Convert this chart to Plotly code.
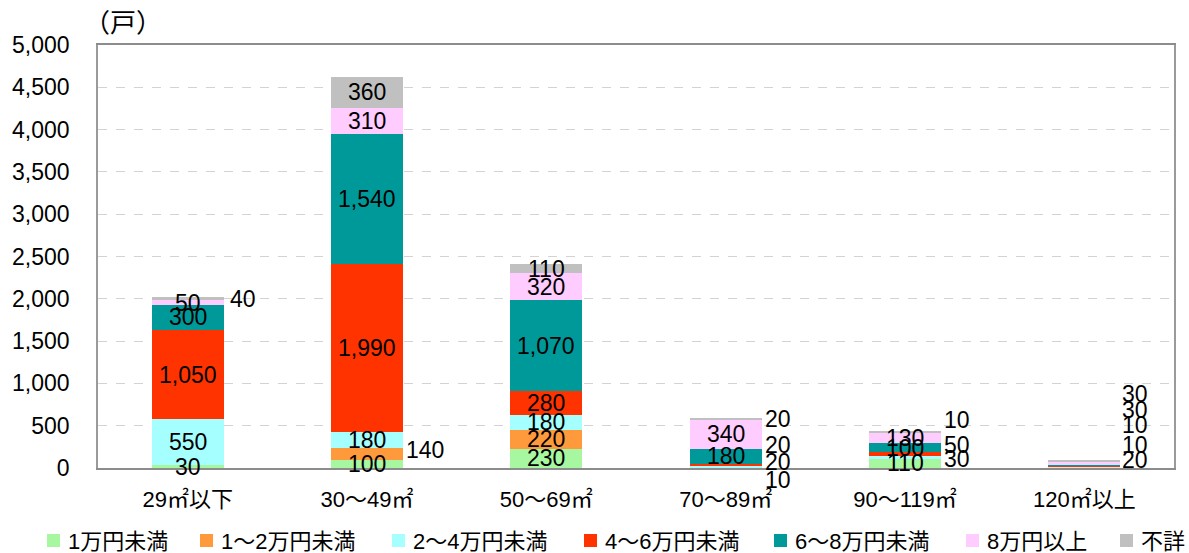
import plotly.graph_objects as go

categories = ["29㎡以下", "30～49㎡", "50～69㎡", "70～89㎡", "90～119㎡", "120㎡以上"]
series_names = ["1万円未満", "1～2万円未満", "2～4万円未満", "4～6万円未満", "6～8万円未満", "8万円以上", "不詳"]

v_1man = [30, 100, 230, 0, 110, 0]
v_1_2man = [0, 140, 220, 10, 0, 0]
v_2_4man = [550, 180, 180, 20, 30, 20]
v_4_6man = [1050, 1990, 280, 20, 50, 10]
v_6_8man = [300, 1540, 1070, 180, 100, 10]
v_8man = [50, 310, 320, 340, 130, 30]
v_unknown = [40, 360, 110, 20, 10, 30]

y_ticks = [0, 500, 1000, 1500, 2000, 2500, 3000, 3500, 4000, 4500, 5000]

values = [v_1man, v_1_2man, v_2_4man, v_4_6man, v_6_8man, v_8man, v_unknown]
colors = ["#A6F7A0", "#FF9A3C", "#A6FFFF", "#FF3300", "#009999", "#FFCCFF", "#C0C0C0"]

FONT = "Liberation Sans, Arial, Noto Sans CJK JP, sans-serif"

# plot area in pixels
W, H = 1189, 553
ML, MR, MT, MB = 98, 15, 45, 85
PW, PH = W - ML - MR, H - MT - MB


def px_x(px):
    return (px - ML) / PW


def px_y(py):
    return (H - MB - py) / PH


fig = go.Figure()
for name, vals, col in zip(series_names, values, colors):
    fig.add_trace(go.Bar(x=categories, y=vals, name=name, marker=dict(color=col, line=dict(width=0)),
                         hoverinfo="x+y+name", showlegend=False))

# label placement: (category index, series index) -> (xshift, yshift) for labels drawn at the right of the bar
outside = {
    (0, 6): (4, 0),
    (1, 1): (1, -4),
    (3, 1): (1, 12), (3, 2): (1, -4), (3, 3): (1, -20), (3, 6): (1, 0),
    (4, 2): (1, 2), (4, 3): (1, -9), (4, 6): (1, -12),
    (5, 2): (0, -7), (5, 3): (0, -21), (5, 4): (0, -40), (5, 5): (0, -53), (5, 6): (0, -67),
}

annotations = []
for ci in range(len(categories)):
    base = 0
    for si, vals in enumerate(values):
        v = vals[ci]
        if v > 0:
            center = base + v / 2
            txt = f"{v:,}"
            if (ci, si) in outside:
                xs, ys = outside[(ci, si)]
                annotations.append(dict(x=ci + 0.2, y=center, xref="x", yref="y", text=txt,
                                        showarrow=False, xanchor="left", yanchor="middle", xshift=xs,
                                        yshift=-ys, font=dict(size=23, color="#000", family=FONT)))
            else:
                annotations.append(dict(x=ci, y=center, xref="x", yref="y", text=txt,
                                        showarrow=False, xanchor="center", yanchor="middle",
                                        font=dict(size=23, color="#000", family=FONT)))
        base += v

annotations.append(dict(x=px_x(82), y=px_y(20), xref="paper", yref="paper", text="（戸）", showarrow=False,
                        xanchor="left", yanchor="middle",
                        font=dict(size=26, color="#000", family="Noto Sans CJK JP")))

# legend row (drawn manually to match the spacing of the reference)
legend_x = [47, 200, 392, 584, 774, 966, 1120]
shapes = []
for name, col, lx in zip(series_names, colors, legend_x):
    shapes.append(dict(type="rect", xref="paper", yref="paper",
                       x0=px_x(lx), x1=px_x(lx + 13), y0=px_y(547), y1=px_y(534),
                       fillcolor=col, line=dict(width=0)))
    annotations.append(dict(x=px_x(lx + 19), y=px_y(541), xref="paper", yref="paper", text=name,
                            showarrow=False, xanchor="left", yanchor="middle",
                            font=dict(size=22, color="#000", family=FONT)))

fig.update_layout(
    barmode="stack",
    bargap=0.6,
    width=W, height=H,
    margin=dict(l=ML, r=MR, t=MT, b=MB, autoexpand=False),
    paper_bgcolor="white", plot_bgcolor="white",
    font=dict(family=FONT, size=22, color="#000"),
    annotations=annotations,
    shapes=shapes,
    showlegend=False,
    xaxis=dict(showgrid=False, showline=True, linecolor="#8c8c8c", linewidth=2, mirror=True,
               tickfont=dict(size=22), ticks="", ticklabelstandoff=11),
    yaxis=dict(range=[0, 5000], tickvals=y_ticks, tickformat=",", showgrid=True,
               gridcolor="#D3D3D3", griddash="dash", gridwidth=1.3,
               showline=True, linecolor="#9a9a9a", linewidth=1.5, mirror=True,
               zeroline=False, ticks="", ticklabelstandoff=22, tickfont=dict(size=23)),
)

fig.write_html("out.html")
